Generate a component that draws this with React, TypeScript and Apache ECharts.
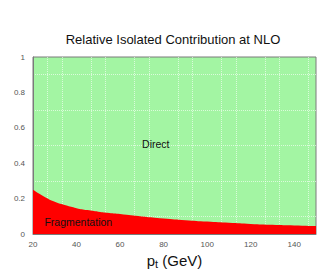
import React, { useEffect, useRef } from "react";
import * as echarts from "echarts";

const ptValues = [20, 25, 30, 35, 40, 45, 50, 55, 60, 70, 80, 90, 100, 110, 120, 130, 140, 150];
const fragmentation = [0.25, 0.212, 0.182, 0.162, 0.146, 0.135, 0.126, 0.119, 0.113, 0.099, 0.088, 0.078, 0.07, 0.063, 0.057, 0.052, 0.048, 0.045];
const titleText = "Relative Isolated Contribution at NLO";
const yTicks = [0, 0.2, 0.4, 0.6, 0.8, 1];

export default function App() {
  const ref = useRef<HTMLDivElement>(null);
  useEffect(() => {
    if (!ref.current) return;
    const chart = echarts.init(ref.current, null, { renderer: "svg" });
    const fragData = ptValues.map((x, i) => [x, fragmentation[i]]);
    const directData = ptValues.map((x, i) => [x, +(1 - fragmentation[i]).toFixed(4)]);
    chart.setOption({
      animation: false,
      backgroundColor: "#ffffff",
      title: {
        text: titleText,
        left: 173,
        textAlign: "center",
        top: 33,
        padding: 0,
        textStyle: { fontFamily: "Liberation Sans", fontSize: 13, fontWeight: "normal", color: "#111" },
      },
      grid: {
        left: 33,
        top: 57,
        right: 16,
        bottom: 42,
        show: true,
        borderColor: "#7a7a7a",
        borderWidth: 1,
        backgroundColor: "#a3f5a3",
      },
      xAxis: {
        type: "value",
        min: 20,
        max: 150,
        interval: 20,
        name: "{p|p}{t|t}{g| (GeV)}",
        nameLocation: "middle",
        nameGap: 9,
        nameTextStyle: {
          rich: {
            p: { fontFamily: "Liberation Sans", fontSize: 15, color: "#111" },
            t: { fontFamily: "Liberation Sans", fontSize: 11, color: "#111", padding: [8, 0, 0, 0] },
            g: { fontFamily: "Liberation Sans", fontSize: 15, color: "#111" },
          },
        },
        axisLine: { show: true, lineStyle: { color: "#7a7a7a" } },
        axisTick: { show: false },
        axisLabel: { fontFamily: "Liberation Sans", fontSize: 8, color: "#555", margin: 6, showMaxLabel: false },
        splitLine: { show: false },
        minorTick: { show: false, splitNumber: 3 },
        minorSplitLine: { show: true, lineStyle: { color: "rgba(255,255,255,0.6)", width: 1, type: "dotted" } },
      },
      yAxis: {
        type: "value",
        min: 0,
        max: 1,
        interval: 0.2,
        axisLine: { show: true, lineStyle: { color: "#7a7a7a" } },
        axisTick: { show: false },
        axisLabel: {
          fontFamily: "Liberation Sans",
          fontSize: 8,
          color: "#555",
          margin: 8,
          formatter: (v: number) => (yTicks.includes(+v.toFixed(1)) ? String(+v.toFixed(1)) : ""),
        },
        splitLine: { show: false },
        minorTick: { show: false, splitNumber: 2 },
        minorSplitLine: { show: true, lineStyle: { color: "rgba(255,255,255,0.6)", width: 1, type: "dotted" } },
      },
      series: [
        {
          name: "Fragmentation",
          type: "line",
          stack: "total",
          data: fragData,
          symbol: "none",
          smooth: true,
          lineStyle: { width: 0 },
          areaStyle: { color: "#ff0000", opacity: 1 },
          markPoint: {
            symbol: "circle",
            symbolSize: 0,
            data: [{ coord: [40.8, 0.068] }],
            label: {
              show: true,
              formatter: "Fragmentation",
              fontFamily: "Liberation Sans",
              fontSize: 10.5,
              color: "#111",
            },
          },
        },
        {
          name: "Direct",
          type: "line",
          stack: "total",
          data: directData,
          symbol: "none",
          smooth: true,
          lineStyle: { width: 0 },
          areaStyle: { color: "rgba(0,0,0,0)" },
          markPoint: {
            symbol: "circle",
            symbolSize: 0,
            data: [{ coord: [76.4, 0.508] }],
            label: {
              show: true,
              formatter: "Direct",
              fontFamily: "Liberation Sans",
              fontSize: 10.5,
              color: "#111",
            },
          },
        },
      ],
    });
    return () => chart.dispose();
  }, []);
  return (
    <div
      ref={ref}
      style={{ position: "fixed", left: 0, top: 0, width: 332, height: 276 }}
    />
  );
}
